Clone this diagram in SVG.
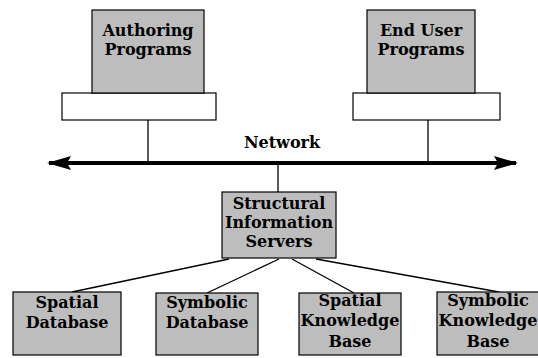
<svg xmlns="http://www.w3.org/2000/svg" width="538" height="358" viewBox="0 0 538 358">
<style>
.box{fill:#bdbdbd;stroke:#000;stroke-width:1.2}
.base{fill:#fff;stroke:#000;stroke-width:1.2}
.lbl{font-family:"DejaVu Serif","Liberation Serif",serif;font-weight:bold;font-size:16px;fill:#000;text-anchor:middle}
.ln{stroke:#000;stroke-width:1.3;fill:none}
</style>
<defs>
<marker id="ah" viewBox="0 0 24 16" refX="22" refY="8" markerWidth="24" markerHeight="16" markerUnits="userSpaceOnUse" orient="auto-start-reverse">
<path d="M0,1 L24,8 L0,15 L4,8 Z" fill="#000"/>
</marker>
</defs>
<g id="connectors">
<line class="ln" x1="148" y1="120" x2="148" y2="162"/>
<line class="ln" x1="428" y1="120" x2="428" y2="162"/>
<line x1="49" y1="163" x2="516" y2="163" stroke="#000" stroke-width="4" marker-start="url(#ah)" marker-end="url(#ah)"/>
<line class="ln" x1="278" y1="165" x2="278" y2="192"/>
<line class="ln" x1="229" y1="259" x2="72" y2="292"/>
<line class="ln" x1="279" y1="259" x2="207" y2="293"/>
<line class="ln" x1="292" y1="259" x2="354" y2="293"/>
<line class="ln" x1="316" y1="259" x2="499" y2="292"/>
</g>
<g id="authoring">
<rect class="base" x="62" y="93" width="154" height="27"/>
<rect class="box" x="92" y="10" width="112" height="83"/>
<text class="lbl" x="148" y="36">Authoring</text>
<text class="lbl" x="148" y="55">Programs</text>
</g>
<g id="enduser">
<rect class="base" x="353" y="93" width="147" height="27"/>
<rect class="box" x="367" y="10" width="108" height="83"/>
<text class="lbl" x="421" y="36">End User</text>
<text class="lbl" x="421" y="55">Programs</text>
</g>
<text class="lbl" x="282" y="148" font-size="15">Network</text>
<g id="structural">
<rect class="box" x="222" y="192" width="114" height="66"/>
<text class="lbl" x="279" y="209">Structural</text>
<text class="lbl" x="279" y="228">Information</text>
<text class="lbl" x="279" y="247">Servers</text>
</g>
<g id="spatialdb">
<rect class="box" x="13" y="292" width="108" height="63"/>
<text class="lbl" x="67" y="308">Spatial</text>
<text class="lbl" x="67" y="328">Database</text>
</g>
<g id="symbolicdb">
<rect class="box" x="156" y="293" width="102" height="62"/>
<text class="lbl" x="207" y="308">Symbolic</text>
<text class="lbl" x="207" y="328">Database</text>
</g>
<g id="spatialkb">
<rect class="box" x="299" y="293" width="102" height="62"/>
<text class="lbl" x="350" y="306">Spatial</text>
<text class="lbl" x="350" y="326">Knowledge</text>
<text class="lbl" x="350" y="347">Base</text>
</g>
<g id="symbolickb">
<rect class="box" x="437" y="292" width="108" height="63"/>
<text class="lbl" x="488" y="306">Symbolic</text>
<text class="lbl" x="488" y="326">Knowledge</text>
<text class="lbl" x="488" y="347">Base</text>
</g>
</svg>
